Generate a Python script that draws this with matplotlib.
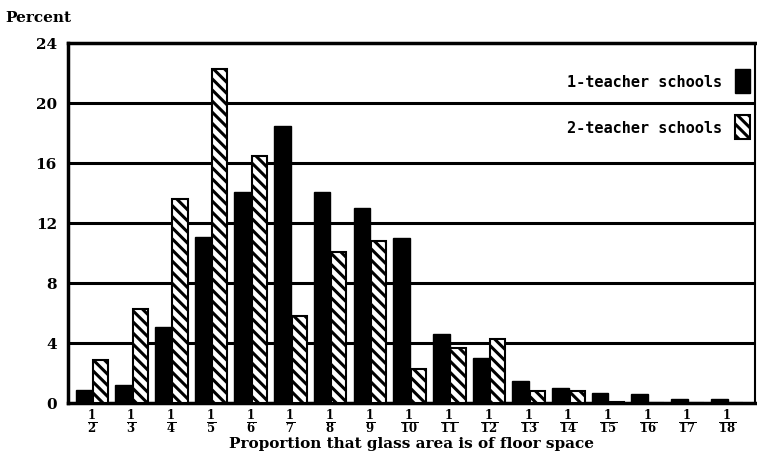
import matplotlib
matplotlib.use('Agg')
import matplotlib.pyplot as plt
import numpy as np

plt.rcParams['hatch.linewidth'] = 2.2
plt.rcParams['mathtext.fontset'] = 'dejavuserif'

denoms = [2, 3, 4, 5, 6, 7, 8, 9, 10, 11, 12, 13, 14, 15, 16, 17, 18]
one_teacher = [0.9, 1.2, 5.1, 11.1, 14.1, 18.5, 14.1, 13.0, 11.0, 4.6, 3.0, 1.5, 1.0, 0.7, 0.6, 0.3, 0.3]
two_teacher = [2.9, 6.3, 13.6, 22.3, 16.5, 5.8, 10.1, 10.8, 2.3, 3.7, 4.3, 0.8, 0.8, 0.1, 0.0, 0.0, 0.0]

fontdict1 = {'family': 'DejaVu Serif', 'weight': 'bold', 'color': 'black', 'fontsize': 11}

fig = plt.figure(figsize=(7.57, 4.77), dpi=100)
ax = fig.add_axes([68 / 757, 1 - 404 / 477, (755 - 68) / 757, 360 / 477])

x = np.arange(len(denoms))
ax.bar(x - 0.2, one_teacher, 0.42, color='black', edgecolor='black', zorder=3,
       label='1-teacher schools')
ax.bar(x + 0.22, two_teacher, 0.38, color='white', edgecolor='black', hatch='\\\\\\',
       linewidth=1.5, zorder=3, label='2-teacher schools')

ax.set_xlim(-0.6, 16.7)
ax.set_ylim(0, 24)
ax.set_yticks(range(0, 25, 4))
ax.set_yticklabels([str(v) for v in range(0, 25, 4)], fontdict=fontdict1)
ax.set_xticks(x)
ax.set_xticklabels(['$\\mathbf{\\frac{1}{%d}}$' % d for d in denoms], fontsize=12)
ax.tick_params(length=0)
ax.tick_params(axis='x', pad=3)
ax.tick_params(axis='y', pad=8)

for v in range(4, 24, 4):
    ax.axhline(v, color='black', lw=2.2, zorder=1)
for s in ['left', 'top', 'bottom']:
    ax.spines[s].set_linewidth(2.5)
ax.spines['right'].set_linewidth(1.5)

ax.set_xlabel('Proportion that glass area is of floor space', fontdict=fontdict1, labelpad=0)
fig.text(5 / 757, 1 - 18 / 477, 'Percent', fontdict=fontdict1, va='center')

ax.legend(loc='upper right', bbox_to_anchor=(0.9927, 0.928), borderaxespad=0, borderpad=0,
          markerfirst=False, frameon=False, handlelength=1.0, handleheight=2.0,
          labelspacing=1.5, handletextpad=0.8,
          prop={'family': 'DejaVu Sans Mono', 'weight': 'bold', 'size': 11})

fig.savefig('out.png', dpi=100)
